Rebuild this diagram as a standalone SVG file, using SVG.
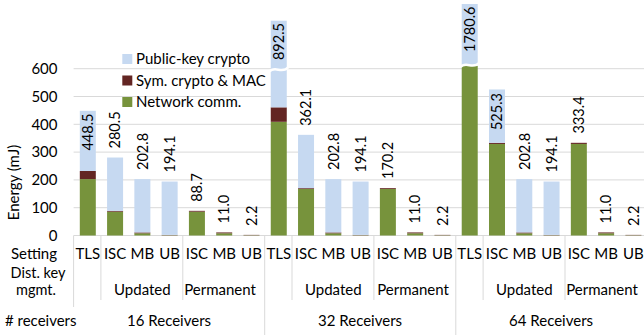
<svg xmlns="http://www.w3.org/2000/svg" width="644" height="335" viewBox="0 0 644 335">
<style>
text{font-family:Lato,"Liberation Sans",sans-serif;font-size:15px;fill:#000}
.grid{stroke:#D9D9D9;stroke-width:1;fill:none}
.pk{fill:#C6D9F1}
.sym{fill:#632523}
.net{fill:#77933C}
.tick{text-anchor:end}
.mid{text-anchor:middle}
.val{font-size:14.5px}
.brk{stroke:#fff;stroke-width:2.5;fill:none}
</style>
<rect width="644" height="335" fill="#fff"/>
<g id="gridlines">
<line class="grid" x1="73.6" y1="68.7" x2="644" y2="68.7"/>
<line class="grid" x1="73.6" y1="96.5" x2="644" y2="96.5"/>
<line class="grid" x1="73.6" y1="124.3" x2="644" y2="124.3"/>
<line class="grid" x1="73.6" y1="152.1" x2="644" y2="152.1"/>
<line class="grid" x1="73.6" y1="179.9" x2="644" y2="179.9"/>
<line class="grid" x1="73.6" y1="207.7" x2="644" y2="207.7"/>
<line class="grid" x1="73.6" y1="235.5" x2="644" y2="235.5"/>
</g>
<g id="y-axis">
<text class="tick" x="57.5" y="74">600</text>
<text class="tick" x="57.5" y="101.8">500</text>
<text class="tick" x="57.5" y="129.6">400</text>
<text class="tick" x="57.5" y="157.4">300</text>
<text class="tick" x="57.5" y="185.2">200</text>
<text class="tick" x="57.5" y="213">100</text>
<text class="tick" x="57.5" y="240.8">0</text>
<text class="mid" transform="translate(19,182.5) rotate(-90)">Energy (mJ)</text>
</g>
<g id="legend">
<rect class="pk" x="122.3" y="54" width="10" height="10"/>
<text x="136" y="64.3">Public-key crypto</text>
<rect class="sym" x="122.3" y="75.5" width="10" height="10"/>
<text x="136" y="85.8">Sym. crypto &amp; MAC</text>
<rect class="net" x="122.3" y="97" width="10" height="10"/>
<text x="136" y="107.3">Network comm.</text>
</g>
<g id="g16">
<g id="b16-tls"><rect class="net" x="79.8" y="179.1" width="16" height="56.4"/><rect class="sym" x="79.8" y="171" width="16" height="8.1"/><rect class="pk" x="79.8" y="110.8" width="16" height="60.2"/><text class="val" text-anchor="end" transform="translate(93,113.5) rotate(-90)">448.5</text></g>
<g id="b16-isc-u"><rect class="net" x="107.08" y="211.68" width="16" height="23.82"/><rect class="sym" x="107.08" y="210.84" width="16" height="0.84"/><rect class="pk" x="107.08" y="157.52" width="16" height="53.32"/><text class="val" transform="translate(120.3,148.5) rotate(-90)">280.5</text></g>
<g id="b16-mb-u"><rect class="net" x="134.36" y="233.28" width="16" height="2.22"/><rect class="sym" x="134.36" y="232.44" width="16" height="0.84"/><rect class="pk" x="134.36" y="179.12" width="16" height="53.32"/><text class="val" transform="translate(147.6,170) rotate(-90)">202.8</text></g>
<g id="b16-ub-u"><rect class="net" x="161.64" y="235.22" width="16" height="0.28"/><rect class="sym" x="161.64" y="234.89" width="16" height="0.33"/><rect class="pk" x="161.64" y="181.54" width="16" height="53.35"/><text class="val" transform="translate(174.9,172.5) rotate(-90)">194.1</text></g>
<g id="b16-isc-p"><rect class="net" x="188.92" y="211.68" width="16" height="23.82"/><rect class="sym" x="188.92" y="210.84" width="16" height="0.84"/><text class="val" transform="translate(202.1,201.8) rotate(-90)">88.7</text></g>
<g id="b16-mb-p"><rect class="net" x="216.2" y="233.28" width="16" height="2.22"/><rect class="sym" x="216.2" y="232.44" width="16" height="0.84"/><text class="val" transform="translate(229.4,223.4) rotate(-90)">11.0</text></g>
<g id="b16-ub-p"><rect class="net" x="243.48" y="235.22" width="16" height="0.28"/><rect class="sym" x="243.48" y="234.89" width="16" height="0.33"/><text class="val" transform="translate(256.7,225.9) rotate(-90)">2.2</text></g>
</g>
<g id="g32">
<g id="b32-tls"><rect class="net" x="270.76" y="121.8" width="16" height="113.7"/><rect class="sym" x="270.76" y="107.34" width="16" height="14.46"/><rect class="pk" x="270.76" y="20.7" width="16" height="86.64"/><path class="brk" d="M269.5 71.5 C274 65.5 283 74 288 67.5"/><text class="val" text-anchor="end" transform="translate(284,23) rotate(-90)">892.5</text></g>
<g id="b32-isc-u"><rect class="net" x="298.04" y="189.02" width="16" height="46.48"/><rect class="sym" x="298.04" y="188.18" width="16" height="0.84"/><rect class="pk" x="298.04" y="134.84" width="16" height="53.34"/><text class="val" transform="translate(311.3,125.8) rotate(-90)">362.1</text></g>
<g id="b32-mb-u"><rect class="net" x="325.32" y="233.28" width="16" height="2.22"/><rect class="sym" x="325.32" y="232.44" width="16" height="0.84"/><rect class="pk" x="325.32" y="179.12" width="16" height="53.32"/><text class="val" transform="translate(338.6,170) rotate(-90)">202.8</text></g>
<g id="b32-ub-u"><rect class="net" x="352.6" y="235.22" width="16" height="0.28"/><rect class="sym" x="352.6" y="234.89" width="16" height="0.33"/><rect class="pk" x="352.6" y="181.54" width="16" height="53.35"/><text class="val" transform="translate(365.8,172.5) rotate(-90)">194.1</text></g>
<g id="b32-isc-p"><rect class="net" x="379.88" y="189.02" width="16" height="46.48"/><rect class="sym" x="379.88" y="188.18" width="16" height="0.84"/><text class="val" transform="translate(393.1,179) rotate(-90)">170.2</text></g>
<g id="b32-mb-p"><rect class="net" x="407.16" y="233.28" width="16" height="2.22"/><rect class="sym" x="407.16" y="232.44" width="16" height="0.84"/><text class="val" transform="translate(420.4,223.4) rotate(-90)">11.0</text></g>
<g id="b32-ub-p"><rect class="net" x="434.44" y="235.22" width="16" height="0.28"/><rect class="sym" x="434.44" y="234.89" width="16" height="0.33"/><text class="val" transform="translate(447.6,225.9) rotate(-90)">2.2</text></g>
</g>
<g id="g64">
<g id="b64-tls"><rect class="net" x="461.72" y="66" width="16" height="169.5"/><rect class="pk" x="461.72" y="4" width="16" height="62"/><path class="brk" d="M460.5 67 C465 61 474 69.5 479 63"/><text class="val" text-anchor="end" transform="translate(475,6.5) rotate(-90)">1780.6</text></g>
<g id="b64-isc-u"><rect class="net" x="489" y="143.93" width="16" height="91.57"/><rect class="sym" x="489" y="142.81" width="16" height="1.12"/><rect class="pk" x="489" y="89.47" width="16" height="53.34"/><text class="val" text-anchor="end" transform="translate(502.2,93) rotate(-90)">525.3</text></g>
<g id="b64-mb-u"><rect class="net" x="516.28" y="233.28" width="16" height="2.22"/><rect class="sym" x="516.28" y="232.44" width="16" height="0.84"/><rect class="pk" x="516.28" y="179.12" width="16" height="53.32"/><text class="val" transform="translate(529.5,170) rotate(-90)">202.8</text></g>
<g id="b64-ub-u"><rect class="net" x="543.56" y="235.22" width="16" height="0.28"/><rect class="sym" x="543.56" y="234.89" width="16" height="0.33"/><rect class="pk" x="543.56" y="181.54" width="16" height="53.35"/><text class="val" transform="translate(556.8,172.5) rotate(-90)">194.1</text></g>
<g id="b64-isc-p"><rect class="net" x="570.84" y="143.93" width="16" height="91.57"/><rect class="sym" x="570.84" y="142.81" width="16" height="1.12"/><text class="val" transform="translate(584,133.5) rotate(-90)">333.4</text></g>
<g id="b64-mb-p"><rect class="net" x="598.12" y="233.28" width="16" height="2.22"/><rect class="sym" x="598.12" y="232.44" width="16" height="0.84"/><text class="val" transform="translate(611.3,223.4) rotate(-90)">11.0</text></g>
<g id="b64-ub-p"><rect class="net" x="625.4" y="235.22" width="16" height="0.28"/><rect class="sym" x="625.4" y="234.89" width="16" height="0.33"/><text class="val" transform="translate(638.6,225.9) rotate(-90)">2.2</text></g>
</g>
<g id="x-axis">
<g id="dividers">
<line class="grid" x1="73.6" y1="235.5" x2="73.6" y2="307"/>
<line class="grid" x1="100.9" y1="235.5" x2="100.9" y2="300"/>
<line class="grid" x1="182.8" y1="235.5" x2="182.8" y2="300"/>
<line class="grid" x1="264.7" y1="235.5" x2="264.7" y2="335"/>
<line class="grid" x1="292" y1="235.5" x2="292" y2="300"/>
<line class="grid" x1="373.9" y1="235.5" x2="373.9" y2="300"/>
<line class="grid" x1="455.8" y1="235.5" x2="455.8" y2="335"/>
<line class="grid" x1="483.1" y1="235.5" x2="483.1" y2="300"/>
<line class="grid" x1="565" y1="235.5" x2="565" y2="300"/>
</g>
<text class="mid" x="34" y="259">Setting</text>
<text class="mid" style="font-size:14.5px" y="277.5"><tspan x="38">Dist. key</tspan><tspan x="36" dy="17.5">mgmt.</tspan></text>
<text x="5" y="325.5"># receivers</text>
<g class="mid">
<text class="mid" x="87.8" y="259">TLS</text><text class="mid" x="115.08" y="259">ISC</text><text class="mid" x="142.36" y="259">MB</text><text class="mid" x="169.64" y="259">UB</text><text class="mid" x="196.92" y="259">ISC</text><text class="mid" x="224.2" y="259">MB</text><text class="mid" x="251.48" y="259">UB</text>
<text class="mid" x="278.76" y="259">TLS</text><text class="mid" x="306.04" y="259">ISC</text><text class="mid" x="333.32" y="259">MB</text><text class="mid" x="360.6" y="259">UB</text><text class="mid" x="387.88" y="259">ISC</text><text class="mid" x="415.16" y="259">MB</text><text class="mid" x="442.44" y="259">UB</text>
<text class="mid" x="469.72" y="259">TLS</text><text class="mid" x="497" y="259">ISC</text><text class="mid" x="524.28" y="259">MB</text><text class="mid" x="551.56" y="259">UB</text><text class="mid" x="578.84" y="259">ISC</text><text class="mid" x="606.12" y="259">MB</text><text class="mid" x="633.4" y="259">UB</text>
<text class="mid" x="142.36" y="295">Updated</text><text class="mid" x="220" y="295">Permanent</text>
<text class="mid" x="333.32" y="295">Updated</text><text class="mid" x="413" y="295">Permanent</text>
<text class="mid" x="524.28" y="295">Updated</text><text class="mid" x="602" y="295">Permanent</text>
<text class="mid" x="169.1" y="326">16 Receivers</text><text class="mid" x="360.1" y="326">32 Receivers</text><text class="mid" x="551.1" y="326">64 Receivers</text>
</g>
</g>
</svg>
